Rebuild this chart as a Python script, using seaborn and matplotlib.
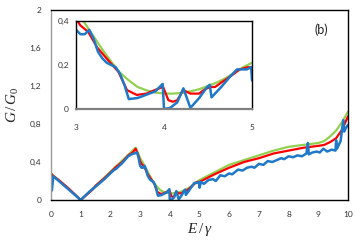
import matplotlib
matplotlib.use("Agg")
import matplotlib.pyplot as plt
import seaborn as sns
import pandas as pd

# ---- data ----
e_green = [0.0, 1.0, 2.85, 2.95, 3.0, 3.1, 3.2, 3.3, 3.4, 3.5, 3.6, 3.7, 3.8, 3.9, 4.0, 4.1, 4.2,
           4.3, 4.4, 4.5, 4.6, 4.7, 4.8, 4.9, 5.0, 5.5, 6.0, 6.5, 7.0, 7.5, 8.0, 8.5, 9.0, 9.2,
           9.4, 9.6, 9.8, 10.0]
g_green = [0.28, 0.0, 0.55, 0.48, 0.44, 0.39, 0.33, 0.27, 0.215, 0.165, 0.13, 0.10, 0.085, 0.075,
           0.07, 0.07, 0.073, 0.08, 0.09, 0.105, 0.12, 0.14, 0.165, 0.19, 0.21, 0.29, 0.37, 0.42,
           0.47, 0.52, 0.56, 0.58, 0.60, 0.62, 0.67, 0.73, 0.82, 0.93]

e_red = [0.0, 0.05, 0.3, 0.6, 1.0, 1.4, 1.5, 1.8, 2.2, 2.4, 2.6, 2.75, 2.85, 2.95, 3.0, 3.05,
         3.14, 3.24, 3.39, 3.48, 3.58, 3.69, 3.8, 3.92, 3.99, 4.05, 4.1, 4.15, 4.22, 4.3, 4.4,
         4.45, 4.52, 4.58, 4.65, 4.75, 4.86, 4.95, 5.0, 5.5, 6.0, 6.5, 7.0, 7.5, 8.0, 8.5, 9.0,
         9.2, 9.4, 9.6, 9.8, 10.0]
g_red = [0.28, 0.26, 0.20, 0.12, 0.0, 0.11, 0.15, 0.23, 0.35, 0.40, 0.47, 0.50, 0.54, 0.46, 0.41,
         0.38, 0.35, 0.28, 0.21, 0.17, 0.086, 0.064, 0.07, 0.09, 0.10, 0.04, 0.033, 0.04, 0.086,
         0.07, 0.07, 0.086, 0.10, 0.10, 0.12, 0.147, 0.18, 0.19, 0.19, 0.27, 0.34, 0.40, 0.44,
         0.49, 0.52, 0.55, 0.57, 0.58, 0.61, 0.65, 0.74, 0.88]

e_blue = [0.0, 0.03, 0.08, 0.3, 0.6, 1.0, 1.3, 1.5, 1.8, 2.1, 2.2, 2.4, 2.6, 2.7, 2.8, 2.9, 2.95,
          3.0, 3.05, 3.1, 3.15, 3.2, 3.25, 3.3, 3.35, 3.45, 3.5, 3.55, 3.6, 3.7, 3.8, 3.9, 3.985,
          4.0, 4.07, 4.15, 4.22, 4.3, 4.4, 4.49, 4.52, 4.54, 4.65, 4.75, 4.83, 4.94, 4.99, 5.0,
          5.05, 5.15, 5.3, 5.45, 5.55, 5.7, 5.85, 6.0, 6.1, 6.3, 6.45, 6.6, 6.75, 6.85, 7.0,
          7.15, 7.3, 7.45, 7.6, 7.75, 7.85, 8.0, 8.15, 8.3, 8.45, 8.6, 8.65, 8.68, 8.8, 8.95,
          9.05, 9.17, 9.3, 9.45, 9.58, 9.6, 9.63, 9.75, 9.84, 9.87, 9.93, 10.0]
g_blue = [0.17, 0.10, 0.25, 0.19, 0.11, 0.0, 0.09, 0.14, 0.22, 0.31, 0.33, 0.39, 0.46, 0.48, 0.49,
          0.50, 0.44, 0.36, 0.34, 0.34, 0.36, 0.32, 0.26, 0.23, 0.21, 0.19, 0.16, 0.11, 0.045, 0.05,
          0.065, 0.08, 0.114, 0.0, 0.005, 0.03, 0.094, 0.005, 0.05, 0.10, 0.11, 0.053, 0.10, 0.147,
          0.18, 0.18, 0.19, 0.13,
          0.19, 0.17, 0.21, 0.22, 0.20, 0.26, 0.25, 0.28, 0.27, 0.32, 0.31, 0.34, 0.35, 0.34, 0.38,
          0.37, 0.41, 0.40, 0.42, 0.44, 0.43, 0.46, 0.45, 0.47, 0.46, 0.49, 0.60, 0.48, 0.50, 0.51,
          0.50, 0.54, 0.51, 0.53, 0.52, 0.63, 0.54, 0.62, 0.84, 0.72, 0.76, 0.79]

main_xticks = [0, 1, 2, 3, 4, 5, 6, 7, 8, 9, 10]
main_yticks = [0, 0.4, 0.8, 1.2, 1.6, 2.0]
main_ylabels = ["0", "0,4", "0,8", "1,2", "1,6", "2"]
inset_xticks = [3, 4, 5]
inset_yticks = [0, 0.2, 0.4]
inset_ylabels = ["0", "0,2", "0,4"]

series = [("green", e_green, g_green, "#92d050", 1.6),
          ("red", e_red, g_red, "#ff0000", 1.6),
          ("blue", e_blue, g_blue, "#1f78c8", 1.8)]

sns.set_style("white")
plt.rcParams["font.family"] = ["Lato", "DejaVu Sans"]
plt.rcParams["mathtext.fontset"] = "custom"
plt.rcParams["mathtext.it"] = "Liberation Serif:italic"
plt.rcParams["mathtext.rm"] = "Liberation Serif"

fig = plt.figure(figsize=(3.55, 2.45), dpi=100)
ax = fig.add_axes([51 / 355, 1 - 200 / 245, (348 - 51) / 355, 190 / 245])
ins = fig.add_axes([76 / 355, 1 - 109 / 245, (252 - 76) / 355, 88 / 245])

for a in (ax, ins):
    for name, e, g, c, lw in series:
        df = pd.DataFrame({"E": e, "G": g})
        sns.lineplot(data=df, x="E", y="G", ax=a, color=c, linewidth=lw,
                     sort=False, estimator=None)
    a.set_xlabel("")
    a.set_ylabel("")

# main axes
ax.set_xlim(0, 10)
ax.set_ylim(0, 2)
ax.set_xticks(main_xticks)
ax.set_xticklabels([str(t) for t in main_xticks])
ax.set_yticks(main_yticks)
ax.set_yticklabels(main_ylabels)
ax.tick_params(axis="x", length=2, width=0.6, color="#9a9a9a", labelsize=6,
               labelcolor="#333333", pad=6)
ax.tick_params(axis="y", length=0, labelsize=6, labelcolor="#333333", pad=7)
for s in ["top", "right", "bottom"]:
    ax.spines[s].set_color("black")
    ax.spines[s].set_linewidth(1.0)
ax.spines["left"].set_color("#9a9a9a")
ax.spines["left"].set_linewidth(1.0)
ax.set_xlabel(r"$E\,/\,\gamma$", fontsize=11, labelpad=2)
ax.set_ylabel(r"$G\,/\,G_\mathrm{0}$", fontsize=11, labelpad=6)
ax.text(0.91, 0.895, "(b)", transform=ax.transAxes, fontsize=9,
        ha="center", va="center", color="#222222")

# inset
ins.set_xlim(3, 5)
ins.set_ylim(0, 0.4)
ins.set_xticks(inset_xticks)
ins.set_xticklabels([str(t) for t in inset_xticks])
ins.set_yticks(inset_yticks)
ins.set_yticklabels(inset_ylabels)
ins.tick_params(axis="x", length=0, labelsize=6, labelcolor="#333333", pad=11)
ins.tick_params(axis="y", length=2, width=0.6, labelsize=6, labelcolor="#333333", pad=3)
for s in ["top", "right", "left"]:
    ins.spines[s].set_color("black")
    ins.spines[s].set_linewidth(1.0)
ins.spines["bottom"].set_color("#808080")
ins.spines["bottom"].set_linewidth(1.6)
ins.set_facecolor("white")

fig.savefig("out.png", dpi=100)
